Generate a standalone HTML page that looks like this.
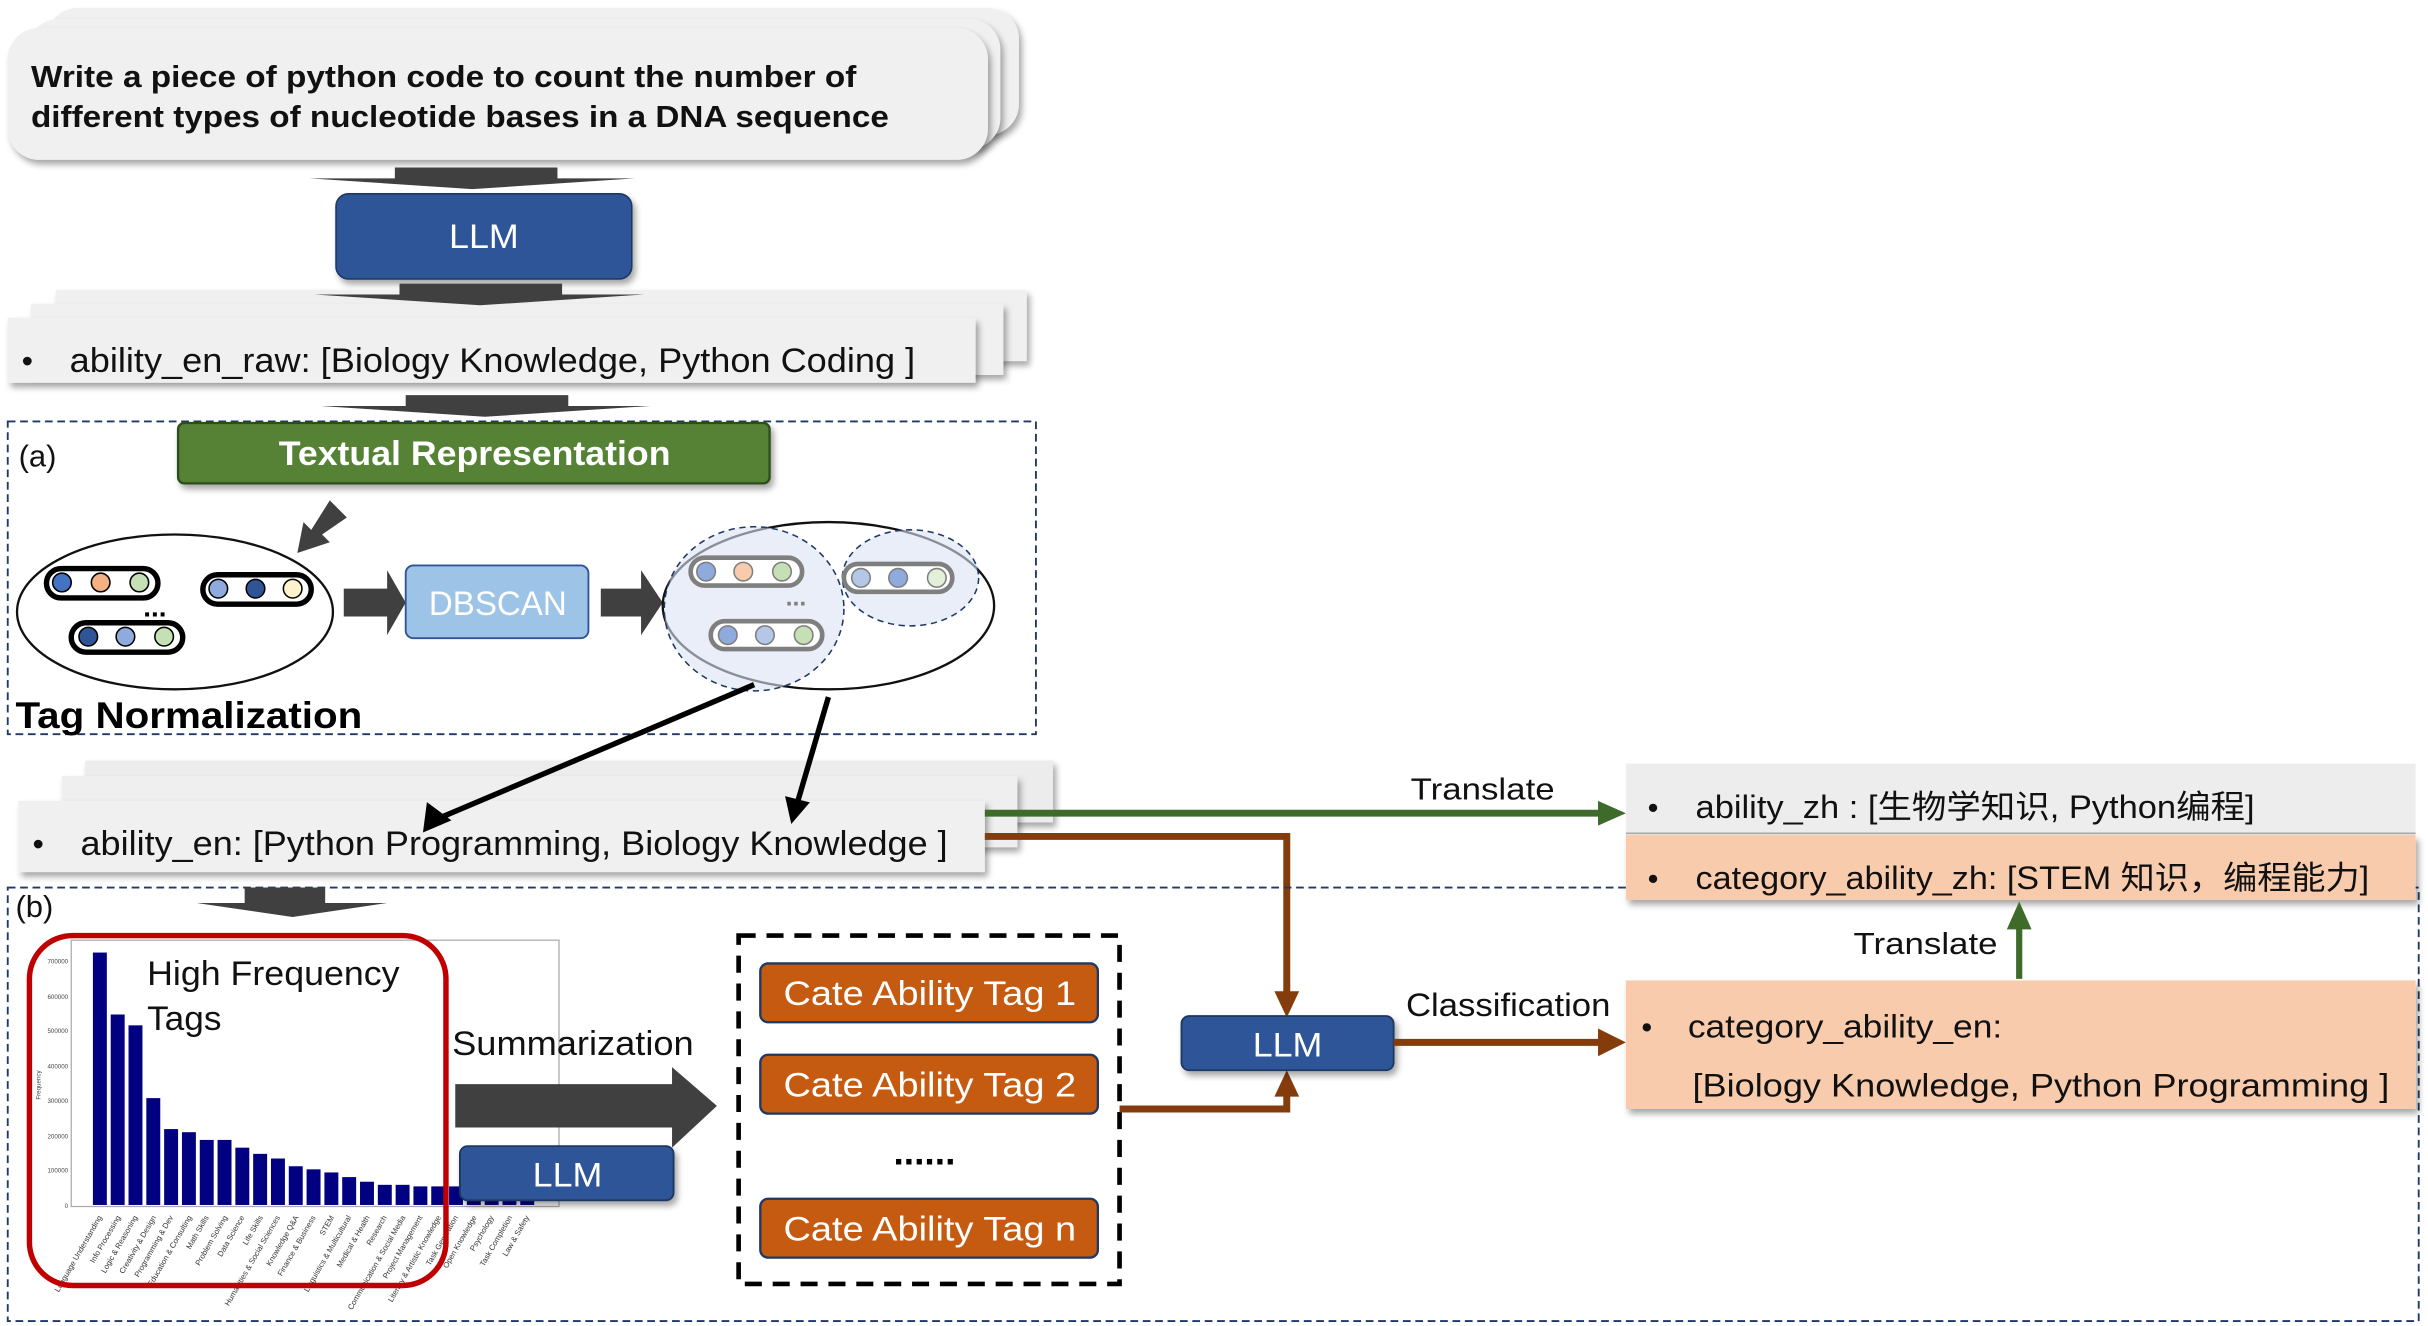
<!DOCTYPE html>
<html><head><meta charset="utf-8"><style>
html,body{margin:0;padding:0;background:#fff;}
svg{display:block;}
text{font-family:"Liberation Sans","Noto Sans CJK SC",sans-serif;}
</style></head><body>
<svg width="2428" height="1326" viewBox="0 0 1568 856" xmlns="http://www.w3.org/2000/svg">
<defs>
<filter id="sh" x="-5%" y="-10%" width="115%" height="130%"><feDropShadow dx="2" dy="3" stdDeviation="2" flood-color="#000" flood-opacity="0.35"/></filter>
</defs>
<rect width="1568" height="856" fill="#fff"/>

<!-- prompt cards -->
<rect x="30" y="5" width="628" height="82" rx="20" fill="#f0f0f0" filter="url(#sh)"/>
<rect x="18" y="12" width="628" height="84" rx="20" fill="#f0f0f0" filter="url(#sh)"/>
<rect x="5" y="18" width="633" height="85" rx="20" fill="#f0f0f0" filter="url(#sh)"/>
<text x="20" y="56" font-size="20" font-weight="bold" fill="#111" textLength="533" lengthAdjust="spacingAndGlyphs">Write a piece of python code to count the number of</text>
<text x="20" y="82" font-size="20" font-weight="bold" fill="#111" textLength="554" lengthAdjust="spacingAndGlyphs">different types of nucleotide bases in a DNA sequence</text>

<!-- flat arrows -->
<polygon points="255,108 360,108 360,115 410,115 305,122 200,115 255,115" fill="#404040"/>
<rect x="217" y="125" width="191" height="55" rx="8" fill="#2f5597" stroke="#1f3864" filter="url(#sh)"/>
<text x="290" y="160" font-size="22" fill="#fff" textLength="45" lengthAdjust="spacingAndGlyphs">LLM</text>

<!-- raw cards -->
<rect x="36" y="187" width="627" height="46" fill="#f0f0f0" filter="url(#sh)"/>
<rect x="20" y="196" width="628" height="46" fill="#f0f0f0" filter="url(#sh)"/>
<rect x="5" y="205" width="625" height="42" fill="#f0f0f0" filter="url(#sh)"/>
<polygon points="258,183 363,183 363,190 416,190 310,197 203,190 258,190" fill="#404040"/>
<text x="14" y="240" font-size="21" fill="#111">•</text>
<text x="45" y="240" font-size="22" fill="#111" textLength="546" lengthAdjust="spacingAndGlyphs">ability_en_raw: [Biology Knowledge,  Python Coding ]</text>
<polygon points="262,255 367,255 367,262 420,262 313,269 207,262 262,262" fill="#404040"/>

<!-- (a) box -->
<rect x="5" y="272" width="664" height="202" fill="none" stroke="#1f3864" stroke-width="1.2" stroke-dasharray="5,3"/>
<text x="12" y="301" font-size="20" fill="#111">(a)</text>
<rect x="115" y="273" width="382" height="39" rx="4" fill="#548235" stroke="#2e4d1e" stroke-width="1.5" filter="url(#sh)"/>
<text x="180" y="300" font-size="22" font-weight="bold" fill="#fff" textLength="253" lengthAdjust="spacingAndGlyphs">Textual Representation</text>
<polygon points="213,323 224,334 208,345 213,350 192,357 196,337 201,342" fill="#404040"/>

<!-- left ellipse -->
<ellipse cx="113" cy="395" rx="102" ry="50" fill="#fff" stroke="#111" stroke-width="1.5"/>
<g stroke="#000" stroke-width="3.5" fill="#fff">
<rect x="30" y="367" width="72" height="19" rx="9.5"/>
<rect x="131" y="371" width="70" height="19" rx="9.5"/>
<rect x="46" y="402" width="72" height="19" rx="9.5"/>
</g>
<g stroke="#000" stroke-width="1">
<circle cx="40" cy="376" r="6" fill="#4472c4"/><circle cx="65" cy="376" r="6" fill="#f4b183"/><circle cx="90" cy="376" r="6" fill="#c5e0b4"/>
<circle cx="141" cy="380" r="6" fill="#8faadc"/><circle cx="165" cy="380" r="6" fill="#2f5597"/><circle cx="189" cy="380" r="6" fill="#fff2cc"/>
<circle cx="57" cy="411" r="6" fill="#2f5597"/><circle cx="81" cy="411" r="6" fill="#8faadc"/><circle cx="106" cy="411" r="6" fill="#c5e0b4"/>
</g>
<text x="100" y="398" font-size="18" font-weight="bold" text-anchor="middle">...</text>
<polygon points="222,380 250,380 250,368 262,389 250,410 250,398 222,398" fill="#404040"/>
<rect x="262" y="365" width="118" height="47" rx="5" fill="#9dc3e6" stroke="#2f5597" stroke-width="1.2"/>
<text x="277" y="397" font-size="22" fill="#fff" textLength="89" lengthAdjust="spacingAndGlyphs">DBSCAN</text>
<polygon points="388,380 414,380 414,368 428,389 414,410 414,398 388,398" fill="#404040"/>

<!-- right ellipse -->
<ellipse cx="535" cy="391" rx="107" ry="54" fill="#fff" stroke="#111" stroke-width="1.5"/>
<ellipse cx="487" cy="393" rx="58" ry="53" fill="#dae3f3" fill-opacity="0.6" stroke="#1f3864" stroke-dasharray="4,3"/>
<ellipse cx="588" cy="373" rx="44" ry="31" fill="#dae3f3" fill-opacity="0.6" stroke="#1f3864" stroke-dasharray="4,3"/>
<g stroke="#7f7f7f" stroke-width="3" fill="#fff">
<rect x="446" y="360" width="72" height="18" rx="9"/>
<rect x="459" y="401" width="72" height="18" rx="9"/>
<rect x="545" y="364" width="70" height="18" rx="9"/>
</g>
<g stroke="#7f7f7f" stroke-width="1">
<circle cx="456" cy="369" r="6" fill="#8faadc"/><circle cx="480" cy="369" r="6" fill="#f8cbad"/><circle cx="505" cy="369" r="6" fill="#c5e0b4"/>
<circle cx="470" cy="410" r="6" fill="#8faadc"/><circle cx="494" cy="410" r="6" fill="#b4c7e7"/><circle cx="519" cy="410" r="6" fill="#c5e0b4"/>
<circle cx="556" cy="373" r="6" fill="#b4c7e7"/><circle cx="580" cy="373" r="6" fill="#8faadc"/><circle cx="605" cy="373" r="6" fill="#e2f0d9"/>
</g>
<text x="514" y="391" font-size="16" font-weight="bold" fill="#7f7f7f" text-anchor="middle">...</text>
<text x="10" y="470" font-size="24" font-weight="bold" fill="#000" textLength="224" lengthAdjust="spacingAndGlyphs">Tag Normalization</text>

<!-- ability_en cards -->
<rect x="55" y="491" width="625" height="40" fill="#ececec" filter="url(#sh)"/>
<rect x="40" y="501" width="617" height="46" fill="#efefef" filter="url(#sh)"/>
<rect x="12" y="517" width="624" height="46" fill="#f0f0f0" filter="url(#sh)"/>
<text x="21" y="552" font-size="21" fill="#111">•</text>
<text x="52" y="552" font-size="22" fill="#111" textLength="560" lengthAdjust="spacingAndGlyphs">ability_en: [Python Programming, Biology Knowledge ]</text>

<!-- black arrows -->
<line x1="487" y1="442" x2="284" y2="528" stroke="#000" stroke-width="3.5"/>
<polygon points="270,534 280,517 290,534" fill="#000" transform="rotate(-23 280 528)"/>
<line x1="535" y1="450" x2="515" y2="518" stroke="#000" stroke-width="3.5"/>
<polygon points="507,514 523,518 511,532" fill="#000"/>

<!-- green translate -->
<line x1="636" y1="525" x2="1035" y2="525" stroke="#3f6b2a" stroke-width="4.5"/>
<polygon points="1032,517 1050,525 1032,533" fill="#3f6b2a"/>
<text x="911" y="516" font-size="20" fill="#111" textLength="93" lengthAdjust="spacingAndGlyphs">Translate</text>
<!-- brown down -->
<polyline points="636,540 831,540 831,642" fill="none" stroke="#843c0c" stroke-width="4.5"/>
<polygon points="823,640 839,640 831,657" fill="#843c0c"/>

<!-- (b) box -->
<rect x="5" y="573" width="1557" height="280" fill="none" stroke="#1f3864" stroke-width="1.2" stroke-dasharray="5,3"/>
<text x="10" y="592" font-size="20" fill="#111">(b)</text>
<polygon points="158,573 210,573 210,583 250,583 189,592 127,583 158,583" fill="#404040"/>

<!-- chart -->
<rect x="46" y="607" width="315" height="172" fill="#fff" stroke="#aaa" stroke-width="0.8"/>
<g fill="#000080">
<rect x="60" y="615" width="9" height="163"/>
<rect x="71.5" y="655" width="9" height="123"/>
<rect x="83" y="662" width="9" height="116"/>
<rect x="94.5" y="709" width="9" height="69"/>
<rect x="106" y="729" width="9" height="49"/>
<rect x="117.5" y="731" width="9" height="47"/>
<rect x="129" y="736" width="9" height="42"/>
<rect x="140.5" y="736" width="9" height="42"/>
<rect x="152" y="741" width="9" height="37"/>
<rect x="163.5" y="745" width="9" height="33"/>
<rect x="175" y="748" width="9" height="30"/>
<rect x="186.5" y="753" width="9" height="25"/>
<rect x="198" y="755" width="9" height="23"/>
<rect x="209.5" y="757" width="9" height="21"/>
<rect x="221" y="760" width="9" height="18"/>
<rect x="232.5" y="763" width="9" height="15"/>
<rect x="244" y="765" width="9" height="13"/>
<rect x="255.5" y="765" width="9" height="13"/>
<rect x="267" y="766" width="9" height="12"/>
<rect x="278.5" y="766" width="9" height="12"/>
<rect x="290" y="766" width="9" height="12"/>
<rect x="301.5" y="767" width="9" height="11"/>
<rect x="313" y="767" width="9" height="11"/>
<rect x="324.5" y="767" width="9" height="11"/>
<rect x="336" y="767" width="9" height="11"/>
</g>
<g font-size="4" fill="#444">
<text x="44" y="622" text-anchor="end">700000</text><text x="44" y="645" text-anchor="end">600000</text>
<text x="44" y="667" text-anchor="end">500000</text><text x="44" y="690" text-anchor="end">400000</text>
<text x="44" y="712" text-anchor="end">300000</text><text x="44" y="735" text-anchor="end">200000</text>
<text x="44" y="757" text-anchor="end">100000</text><text x="44" y="780" text-anchor="end">0</text>
<text transform="translate(26 710) rotate(-90)">Frequency</text>
</g>
<g font-size="5" fill="#333">
<text transform="translate(66 786) rotate(-60)" text-anchor="end">Language Understanding</text>
<text transform="translate(78 786) rotate(-60)" text-anchor="end">Info Processing</text>
<text transform="translate(89 786) rotate(-60)" text-anchor="end">Logic &amp; Reasoning</text>
<text transform="translate(101 786) rotate(-60)" text-anchor="end">Creativity &amp; Design</text>
<text transform="translate(112 786) rotate(-60)" text-anchor="end">Programming &amp; Dev</text>
<text transform="translate(124 786) rotate(-60)" text-anchor="end">Education &amp; Consulting</text>
<text transform="translate(135 786) rotate(-60)" text-anchor="end">Math Skills</text>
<text transform="translate(147 786) rotate(-60)" text-anchor="end">Problem Solving</text>
<text transform="translate(158 786) rotate(-60)" text-anchor="end">Data Science</text>
<text transform="translate(170 786) rotate(-60)" text-anchor="end">Life Skills</text>
<text transform="translate(181 786) rotate(-60)" text-anchor="end">Humanities &amp; Social Sciences</text>
<text transform="translate(193 786) rotate(-60)" text-anchor="end">Knowledge Q&amp;A</text>
<text transform="translate(204 786) rotate(-60)" text-anchor="end">Finance &amp; Business</text>
<text transform="translate(216 786) rotate(-60)" text-anchor="end">STEM</text>
<text transform="translate(227 786) rotate(-60)" text-anchor="end">Linguistics &amp; Multicultural</text>
<text transform="translate(239 786) rotate(-60)" text-anchor="end">Medical &amp; Health</text>
<text transform="translate(250 786) rotate(-60)" text-anchor="end">Research</text>
<text transform="translate(262 786) rotate(-60)" text-anchor="end">Communication &amp; Social Media</text>
<text transform="translate(273 786) rotate(-60)" text-anchor="end">Project Management</text>
<text transform="translate(285 786) rotate(-60)" text-anchor="end">Literary &amp; Artistic Knowledge</text>
<text transform="translate(296 786) rotate(-60)" text-anchor="end">Task Generation</text>
<text transform="translate(308 786) rotate(-60)" text-anchor="end">Open Knowledge</text>
<text transform="translate(319 786) rotate(-60)" text-anchor="end">Psychology</text>
<text transform="translate(331 786) rotate(-60)" text-anchor="end">Task Completion</text>
<text transform="translate(342 786) rotate(-60)" text-anchor="end">Law &amp; Safety</text>
</g>
<rect x="19" y="604" width="269" height="226" rx="28" fill="none" stroke="#c00000" stroke-width="3.5"/>
<text x="95" y="636" font-size="22" fill="#111" textLength="163" lengthAdjust="spacingAndGlyphs">High Frequency</text>
<text x="95" y="665" font-size="22" fill="#111" textLength="48" lengthAdjust="spacingAndGlyphs">Tags</text>

<text x="292" y="681" font-size="22" fill="#111" textLength="156" lengthAdjust="spacingAndGlyphs">Summarization</text>
<polygon points="294,700 434,700 434,689 463,714 434,741 434,728 294,728" fill="#404040"/>
<rect x="297" y="740" width="138" height="35" rx="5" fill="#2f5597" stroke="#1f3864" stroke-width="1.2" filter="url(#sh)"/>
<text x="344" y="766" font-size="22" fill="#fff" textLength="45" lengthAdjust="spacingAndGlyphs">LLM</text>

<!-- tags box -->
<rect x="477" y="604" width="246" height="225" fill="none" stroke="#000" stroke-width="3" stroke-dasharray="11,7"/>
<g stroke="#1f3864" stroke-width="1.5" fill="#c55a11">
<rect x="491" y="622" width="218" height="38" rx="5"/>
<rect x="491" y="681" width="218" height="38" rx="5"/>
<rect x="491" y="774" width="218" height="38" rx="5"/>
</g>
<g font-size="22" fill="#fff">
<text x="506" y="649" textLength="189" lengthAdjust="spacingAndGlyphs">Cate  Ability Tag 1</text>
<text x="506" y="708" textLength="189" lengthAdjust="spacingAndGlyphs">Cate  Ability Tag 2</text>
<text x="506" y="801" textLength="189" lengthAdjust="spacingAndGlyphs">Cate  Ability Tag n</text>
</g>
<text x="597" y="752" font-size="24" font-weight="bold" text-anchor="middle" fill="#000">......</text>

<!-- brown up -->
<polyline points="723,716 831,716 831,706" fill="none" stroke="#843c0c" stroke-width="4.5"/>
<polygon points="823,708 839,708 831,691" fill="#843c0c"/>
<rect x="763" y="656" width="137" height="35" rx="5" fill="#2f5597" stroke="#1f3864" stroke-width="1.2" filter="url(#sh)"/>
<text x="809" y="682" font-size="22" fill="#fff" textLength="45" lengthAdjust="spacingAndGlyphs">LLM</text>
<line x1="900" y1="673" x2="1035" y2="673" stroke="#843c0c" stroke-width="4.5"/>
<polygon points="1032,664 1050,673 1032,682" fill="#843c0c"/>
<text x="908" y="656" font-size="21" fill="#111" textLength="132" lengthAdjust="spacingAndGlyphs">Classification</text>

<!-- right boxes -->
<rect x="1050" y="493" width="510" height="46" fill="#ededed"/>
<line x1="1050" y1="538" x2="1560" y2="538" stroke="#aaa"/>
<rect x="1050" y="539" width="510" height="42" fill="#f8cbad" filter="url(#sh)"/>
<text x="1064" y="528" font-size="20" fill="#111">•</text>
<text x="1095" y="528" font-size="21" fill="#111" textLength="361" lengthAdjust="spacingAndGlyphs">ability_zh : [生物学知识, Python编程]</text>
<text x="1064" y="574" font-size="20" fill="#111">•</text>
<text x="1095" y="574" font-size="21" fill="#111" textLength="435" lengthAdjust="spacingAndGlyphs">category_ability_zh: [STEM 知识，编程能力]</text>
<line x1="1304" y1="632" x2="1304" y2="598" stroke="#3f6b2a" stroke-width="4"/>
<polygon points="1296,600 1312,600 1304,582" fill="#3f6b2a"/>
<text x="1197" y="616" font-size="20" fill="#111" textLength="93" lengthAdjust="spacingAndGlyphs">Translate</text>
<rect x="1050" y="633" width="510" height="83" fill="#f8cbad" filter="url(#sh)"/>
<text x="1060" y="670" font-size="20" fill="#111">•</text>
<text x="1090" y="670" font-size="21" fill="#111" textLength="203" lengthAdjust="spacingAndGlyphs">category_ability_en:</text>
<text x="1093" y="708" font-size="21" fill="#111" textLength="450" lengthAdjust="spacingAndGlyphs">[Biology Knowledge, Python Programming ]</text>
</svg>
</body></html>
